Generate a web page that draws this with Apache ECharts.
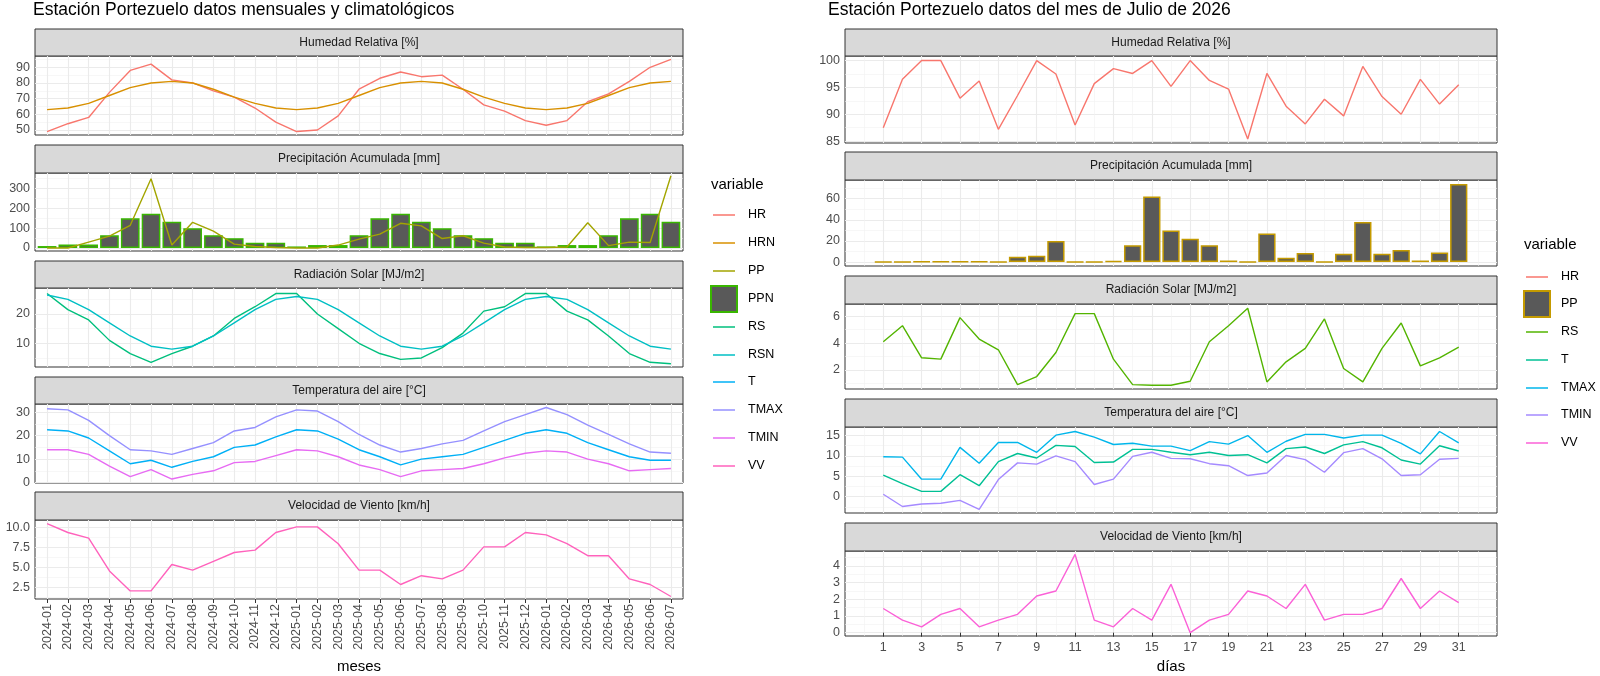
<!DOCTYPE html>
<html><head><meta charset="utf-8">
<script src="https://cdn.jsdelivr.net/npm/echarts@6/dist/echarts.min.js"></script>
<style>html,body{margin:0;padding:0;background:#fff}#c{width:1600px;height:676px}</style>
</head><body><div id="c"></div>
<script>
// ---------- monthly data (left) ----------
const months = ["2024-01","2024-02","2024-03","2024-04","2024-05","2024-06","2024-07","2024-08","2024-09","2024-10","2024-11","2024-12",
"2025-01","2025-02","2025-03","2025-04","2025-05","2025-06","2025-07","2025-08","2025-09","2025-10","2025-11","2025-12",
"2026-01","2026-02","2026-03","2026-04","2026-05","2026-06","2026-07"];
const HR   = [49,54,58,74,88,92,82,80,75,71,64,55,49,50,59,76,83,87,84,85,76,66,62,56,53,56,68,73,81,90,95];
const HRN  = [63,64,67,72,77,80,81,80,76,71,67,64,63,64,67,72,77,80,81,80,76,71,67,64,63,64,67,72,77,80,81];
const PP   = [0,0,30,60,115,350,15,130,85,20,8,3,0,0,15,45,70,125,112,48,62,25,5,3,3,5,128,12,30,28,365];
const PPN  = [10,18,18,65,150,173,133,100,65,50,27,27,8,15,15,65,150,173,133,100,65,50,27,27,8,15,15,65,150,173,133];
const RS   = [27,21.5,18,11,6.5,3.5,6.5,9,12.5,18.5,22.5,27,27,20,15,10,6.5,4.5,5,8.5,13.5,21,22.5,27,27,21,18,12.5,6.5,3.5,3];
const RSN  = [26.5,25,21.5,17,12.5,9,8,9,12.5,17,21.5,25,26,25,21.5,17,12.5,9,8,9,12.5,17,21.5,25,26,25,21.5,17,12.5,9,8];
const T    = [22.5,22,19,13.5,8,9.5,6.5,9,11,15,16,19.5,22.5,22,18.5,14,11,7.5,10,11,12,15,18,21,22.5,21,17,14,11,9.5,9.5];
const TMAX = [31.5,31,26.5,20,14,13.5,12,14.5,17,22,23.5,28,31,30.5,26,20.5,16,13,14.5,16.5,18,22,26,29,32,29,24.5,20.5,16.5,13,12.5];
const TMIN = [14,14,12,7,2.5,5.5,1.5,3.5,5,8.5,9,11.5,14,13.5,11,7.5,5.5,2.5,5,5.5,6,8,10.5,12.5,13.5,13,10,8,5,5.5,6];
const VV   = [10.5,9.4,8.7,4.6,2.1,2.1,5.4,4.7,5.8,6.9,7.2,9.4,10.1,10.1,8,4.7,4.7,2.9,4,3.6,4.7,7.6,7.6,9.4,9.1,8,6.5,6.5,3.6,2.9,1.4];

// ---------- daily data (right) ----------
const days = [1,2,3,4,5,6,7,8,9,10,11,12,13,14,15,16,17,18,19,20,21,22,23,24,25,26,27,28,29,30,31];
const dHR   = [87.5,96.5,100,100,93,96.2,87.2,93.5,100,97.5,88,95.7,98.5,97.6,100,95.2,100,96.3,94.7,85.4,97.6,91.5,88.2,92.8,89.7,98.9,93.3,90,96.5,91.9,95.5];
const dPP   = [0.3,0.3,0.5,0.5,0.5,0.5,0.3,5,6,20,0.3,0.3,1,16,62,30,22,16,1.5,0.3,27,4,8.5,0.3,8,38,8,11.5,1.5,9,74];
const dRS   = [4.1,5.3,2.9,2.8,5.9,4.3,3.5,0.9,1.5,3.3,6.2,6.2,2.8,0.9,0.85,0.85,1.15,4.1,5.3,6.6,1.1,2.6,3.6,5.8,2.1,1.1,3.6,5.5,2.3,2.9,3.7];
const dT    = [5.3,3.2,1.3,1.3,5.4,2.7,8.6,10.6,9.5,12.6,12.3,8.4,8.5,11.6,11.6,10.9,10.3,10.9,10.1,10.3,8.3,11.8,12.2,10.6,12.7,13.5,12,9,8,12.5,11.2];
const dTMAX = [9.8,9.7,4.3,4.3,12.1,8.2,13.3,13.3,10.9,15.1,16,14.6,12.8,13.1,12.4,12.4,11.3,13.5,12.9,15,10.9,13.6,15.3,15.3,14.4,15.1,15.1,13.1,10.5,16,13.2];
const dTMIN = [0.6,-2.4,-1.8,-1.6,-0.9,-3.1,4.2,8.3,8,10,8.6,3,4.3,9.9,10.9,9.4,9.3,8.1,7.6,5.2,5.8,10.1,9.1,6,10.8,11.8,9.3,5.2,5.4,9.2,9.4];
const dVV   = [1.45,0.75,0.35,1.1,1.45,0.35,0.75,1.1,2.2,2.5,4.7,0.75,0.35,1.45,0.75,2.9,0,0.75,1.1,2.5,2.2,1.45,2.9,0.75,1.1,1.1,1.45,3.25,1.45,2.5,1.8];

// ---------- tick labels ----------
const leftTicks  = [[50,60,70,80,90],[0,100,200,300],[10,20],[0,10,20,30],[2.5,5,7.5,10]];
const leftMinor  = [[45,55,65,75,85,95],[50,150,250,350],[5,15,25],[5,15,25],[1.25,3.75,6.25,8.75]];
const rightTicks = [[85,90,95,100],[0,20,40,60],[2,4,6],[0,5,10,15],[0,1,2,3,4]];
const rightMinor = [[87.5,92.5,97.5],[10,30,50,70],[1,3,5],[-2.5,2.5,7.5,12.5],[0.5,1.5,2.5,3.5,4.5]];
const stripNames = ["Humedad Relativa [%]","Precipitación Acumulada [mm]","Radiación Solar [MJ/m2]","Temperatura del aire [°C]","Velocidad de Viento [km/h]"];
const leftLegend = ["HR","HRN","PP","PPN","RS","RSN","T","TMAX","TMIN","VV"];
const rightLegend = ["HR","PP","RS","T","TMAX","TMIN","VV"];

const CL = {HR:'#F8766D',HRN:'#D89000',PP:'#A3A500',PPN:'#39B600',RS:'#00BF7D',RSN:'#00BFC4',T:'#00B0F6',TMAX:'#9590FF',TMIN:'#E76BF3',VV:'#FF62BC'};
const CR = {HR:'#F8766D',PP:'#C49A00',RS:'#53B400',T:'#00C094',TMAX:'#00B6EB',TMIN:'#A58AFF',VV:'#FB61D7'};

const FONT = 'Liberation Sans, Arial, sans-serif';
const leftPanels  = [[29,56,135],[145,173,251],[261,288,367],[377,404,483],[492,520,599]];
const rightPanels = [[29,56,143],[152,180,266],[276,304,389],[399,427,513],[523,551,636]];
const leftY  = [[46.8,97.2],[-15,379],[1.9,28.9],[-0.2,33.5],[1.09,10.96]];
const rightY = [[84.65,100.85],[-3.7,77.7],[0.57,6.92],[-4.0,17.1],[-0.2,4.9]];

const grids=[], xAxes=[], yAxes=[], series=[], graphics=[];
function addPanel(side, p){
  const L = side==='L';
  const pan = (L?leftPanels:rightPanels)[p];
  const gx = L?35:845, gw = L?648:652;
  const gi = grids.length;
  grids.push({left:gx, top:pan[1], width:gw, height:pan[2]-pan[1], show:true, borderColor:'#333', borderWidth:1, backgroundColor:'#fff', containLabel:false});
  graphics.push({type:'rect', shape:{x:gx, y:pan[0], width:gw, height:pan[1]-pan[0]}, style:{fill:'#D9D9D9', stroke:'#333', lineWidth:1}});
  graphics.push({type:'text', x:gx+gw/2, y:(pan[0]+pan[1])/2, style:{text:stripNames[p], fill:'#1A1A1A', font:'12px '+FONT, align:'center', verticalAlign:'middle'}});
  const bottom = p===4;
  const xmin = L?-0.58:-0.995, xmax = L?30.58:32.995;
  const xMaj = L?months.map((m,i)=>i):days.filter(d=>d%2===1);
  const xi = xAxes.length;
  xAxes.push({type:'value', gridIndex:gi, min:xmin, max:xmax, z:1,
    axisLine:{show:false},
    axisTick:{show:bottom, length:4, lineStyle:{color:'#333'}, customValues:xMaj},
    axisLabel:{show:bottom, customValues:xMaj, color:'#4D4D4D', fontSize:12.5, fontFamily:FONT, margin:5,
      rotate:L?90:0, formatter:L?(v=>months[Math.round(v)]):(v=>String(v))},
    splitLine:{show:true, lineStyle:{color:'#EBEBEB', width:1.1}}});
  if(!L){
    xAxes.push({type:'value', gridIndex:gi, min:xmin, max:xmax, position:'bottom', axisLine:{show:false},
      axisTick:{show:false, customValues:days.filter(d=>d%2===0).concat([0,32])}, axisLabel:{show:false},
      splitLine:{show:true, lineStyle:{color:'#F2F2F2', width:0.6}}});
  }
  const yr = (L?leftY:rightY)[p];
  const yMaj = (L?leftTicks:rightTicks)[p], yMin=(L?leftMinor:rightMinor)[p];
  const yi = yAxes.length;
  const fmt = (L && p===4) ? (v=>v.toFixed(1)) : (v=>String(v));
  yAxes.push({type:'value', gridIndex:gi, min:yr[0], max:yr[1], axisLine:{show:false},
    axisTick:{show:false, customValues:yMaj},
    axisLabel:{customValues:yMaj, color:'#4D4D4D', fontSize:12.5, fontFamily:FONT, margin:5, formatter:fmt},
    splitLine:{show:true, lineStyle:{color:'#EBEBEB', width:1.1}}});
  yAxes.push({type:'value', gridIndex:gi, min:yr[0], max:yr[1], position:'left', axisLine:{show:false},
    axisTick:{show:false, customValues:yMin}, axisLabel:{show:false},
    splitLine:{show:true, lineStyle:{color:'#F2F2F2', width:0.6}}});
  return {xi, yi};
}
function line(ax, xs, ys, color, name){
  series.push({type:'line', name, xAxisIndex:ax.xi, yAxisIndex:ax.yi, data:ys.map((v,i)=>[xs[i],v]),
    showSymbol:false, symbol:'none', lineStyle:{color, width:1.4}, itemStyle:{color}, z:3, animation:false});
}
function bar(ax, xs, ys, border, w){
  series.push({type:'bar', xAxisIndex:ax.xi, yAxisIndex:ax.yi, data:ys.map((v,i)=>[xs[i],v]), barWidth:w,
    itemStyle:{color:'#595959', borderColor:border, borderWidth:1.5}, z:2, animation:false});
}
const mi = months.map((m,i)=>i);
let a;
a=addPanel('L',0); line(a,mi,HR,CL.HR); line(a,mi,HRN,CL.HRN);
a=addPanel('L',1); bar(a,mi,PPN,CL.PPN,18.7); line(a,mi,PP,CL.PP);
a=addPanel('L',2); line(a,mi,RS,CL.RS); line(a,mi,RSN,CL.RSN);
a=addPanel('L',3); line(a,mi,T,CL.T); line(a,mi,TMAX,CL.TMAX); line(a,mi,TMIN,CL.TMIN);
a=addPanel('L',4); line(a,mi,VV,CL.VV);
a=addPanel('R',0); line(a,days,dHR,CR.HR);
a=addPanel('R',1); bar(a,days,dPP,CR.PP,17.3);
a=addPanel('R',2); line(a,days,dRS,CR.RS);
a=addPanel('R',3); line(a,days,dT,CR.T); line(a,days,dTMAX,CR.TMAX); line(a,days,dTMIN,CR.TMIN);
a=addPanel('R',4); line(a,days,dVV,CR.VV);

graphics.push({type:'text', x:33, y:10, style:{text:'Estación Portezuelo datos mensuales y climatológicos', fill:'#000', font:'17.5px '+FONT, verticalAlign:'middle'}});
graphics.push({type:'text', x:828, y:10, style:{text:'Estación Portezuelo datos del mes de Julio de 2026', fill:'#000', font:'17.5px '+FONT, verticalAlign:'middle'}});
graphics.push({type:'text', x:359, y:667, style:{text:'meses', fill:'#000', font:'15px '+FONT, align:'center', verticalAlign:'middle'}});
graphics.push({type:'text', x:1171, y:667, style:{text:'días', fill:'#000', font:'15px '+FONT, align:'center', verticalAlign:'middle'}});

function legend(names, colors, barKey, x0, yTitle, ys, barBorder){
  graphics.push({type:'text', x:x0, y:yTitle, style:{text:'variable', fill:'#000', font:'15px '+FONT, verticalAlign:'middle'}});
  names.forEach((n,i)=>{
    const y=ys[i];
    if(n===barKey){
      graphics.push({type:'rect', shape:{x:x0, y:y-13, width:26, height:26}, style:{fill:'#595959', stroke:barBorder, lineWidth:2}});
    } else {
      graphics.push({type:'line', shape:{x1:x0+2, y1:y, x2:x0+24, y2:y}, style:{stroke:colors[n], lineWidth:1.5}});
    }
    graphics.push({type:'text', x:x0+37, y:y, style:{text:n, fill:'#000', font:'12.5px '+FONT, verticalAlign:'middle'}});
  });
}
legend(leftLegend, CL, 'PPN', 711, 185, [215,243,271,299,327,355,382,410,438,466], CL.PPN);
legend(rightLegend, CR, 'PP', 1524, 245, [277,304,332,360,388,415,443], CR.PP);

const chart = echarts.init(document.getElementById('c'), null, {renderer:'canvas'});
chart.setOption({animation:false, backgroundColor:'#fff', grid:grids, xAxis:xAxes, yAxis:yAxes, series, graphic:graphics});
</script></body></html>
